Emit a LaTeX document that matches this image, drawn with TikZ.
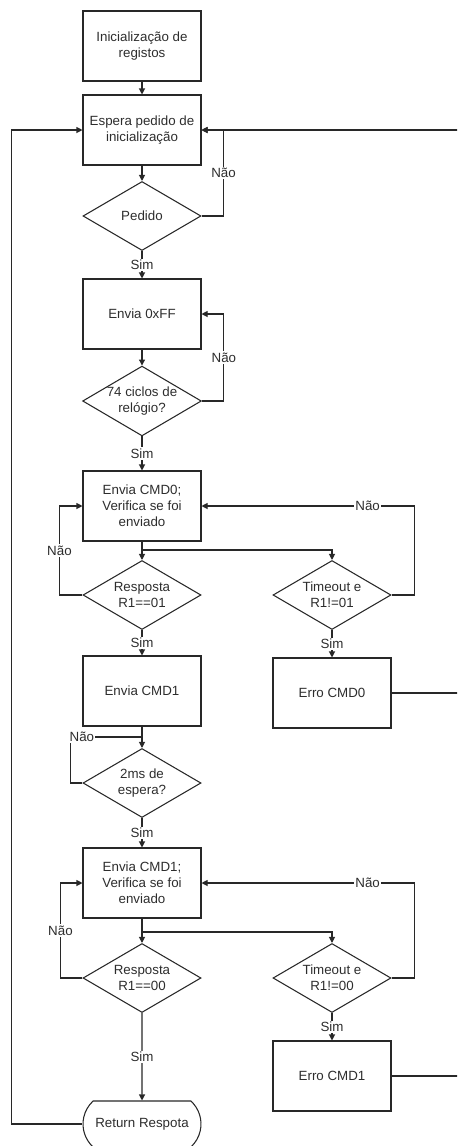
\documentclass[tikz,border=0pt]{standalone}
\usepackage{fontspec}
\setmainfont{Liberation Sans}
\usetikzlibrary{shapes.geometric,shapes.misc,arrows.meta}
\definecolor{linec}{RGB}{40,40,40}
\definecolor{textc}{RGB}{45,45,45}

\begin{document}
\begin{tikzpicture}[x=0.75pt,y=-0.75pt,
  ink/.style={draw=linec, line width=0.8pt},
  txt/.style={font=\fontsize{10}{12}\selectfont, text=textc},
  proc/.style={ink, txt, rectangle, minimum width=88.5pt, minimum height=52.5pt,
    inner sep=0pt, align=center},
  dec/.style={ink, txt, diamond, shape aspect=1.7, minimum width=88.5pt,
    minimum height=51.75pt, inner sep=0pt, align=center},
  term/.style={ink, txt, rounded rectangle, rounded rectangle arc length=95,
    minimum width=88.5pt, minimum height=34.5pt, inner sep=0pt},
  flow/.style={ink, -{Triangle[length=4.5pt,width=4.5pt]}},
  wire/.style={ink},
  tag/.style={txt, fill=white, inner sep=1pt}
]
\useasboundingbox (0,0) rectangle (457,1146);
\clip (0,0) rectangle (457,1146);

% main column
\node[proc] (init)  at (142,46)   {Inicialização de\\registos};
\node[proc] (wait)  at (142,130)  {Espera pedido de\\inicialização};
\node[dec]  (req)   at (142,216)  {Pedido};
\node[proc] (ff)    at (142,314)  {Envia 0xFF};
\node[dec]  (clk)   at (142,401)  {74 ciclos de\\relógio?};
\node[proc] (cmd0)  at (142,506)  {Envia CMD0;\\Verifica se foi\\enviado};
\node[dec]  (r01)   at (142,595)  {Resposta\\R1==01};
\node[proc] (cmd1)  at (142,691)  {Envia CMD1};
\node[dec]  (ms)    at (142,783)  {2ms de\\espera?};
\node[proc] (cmd1v) at (142,883)  {Envia CMD1;\\Verifica se foi\\enviado};
\node[dec]  (r00)   at (142,978)  {Resposta\\R1==00};
\node[term] (ret)   at (142,1124) {Return Respota};

% error column
\node[dec]  (t01)  at (332,595)  {Timeout e\\R1!=01};
\node[proc] (err0) at (332,693)  {Erro CMD0};
\node[dec]  (t00)  at (332,978)  {Timeout e\\R1!=00};
\node[proc] (err1) at (332,1076) {Erro CMD1};

% junctions
\coordinate (edgeTop) at (462,130);
\coordinate (b1) at (142,550);
\coordinate (j1) at (142,737);
\coordinate (b2) at (142,932);

% start-up
\draw[flow] (init) -- (wait);
\draw[flow] (wait) -- (req);
\draw[flow] (req.east) -- ++(22,0) |- node[pos=0.25,tag]{Não} (wait.east);
\draw[flow] (req) -- node[tag]{Sim} (ff);
\draw[flow] (ff) -- (clk);
\draw[flow] (clk.east) -- ++(22,0) |- node[pos=0.25,tag]{Não} (ff.east);
\draw[flow] (clk) -- node[tag]{Sim} (cmd0);

% CMD0
\draw[flow] (cmd0) -- (r01);
\draw[flow] (b1) -| (t01);
\draw[flow] (r01.west) -- ++(-23,0) |- node[pos=0.25,tag]{Não} (cmd0.west);
\draw[flow] (t01.east) -- ++(23,0) |- node[pos=0.61,tag]{Não} (cmd0.east);
\draw[flow] (r01) -- node[tag]{Sim} (cmd1);
\draw[flow] (t01) -- node[tag]{Sim} (err0);
\draw[flow] (err0.east) -| (edgeTop) -- (wait.east);

% CMD1
\draw[flow] (cmd1) -- (ms);
\draw[wire] (ms.west) -- ++(-12,0) |- node[pos=0.58,tag]{Não} (j1);
\draw[flow] (ms) -- node[tag]{Sim} (cmd1v);
\draw[flow] (cmd1v) -- (r00);
\draw[flow] (b2) -| (t00);
\draw[flow] (r00.west) -- ++(-22,0) |- node[pos=0.25,tag]{Não} (cmd1v.west);
\draw[flow] (t00.east) -- ++(23,0) |- node[pos=0.61,tag]{Não} (cmd1v.east);
\draw[flow] (r00) -- node[tag]{Sim} (ret);
\draw[flow] (t00) -- node[tag]{Sim} (err1);
\draw[wire] (err1.east) -| (edgeTop);

% back to waiting
\draw[flow] (ret.west) -- ++(-71,0) |- (wait.west);
\end{tikzpicture}
\end{document}
